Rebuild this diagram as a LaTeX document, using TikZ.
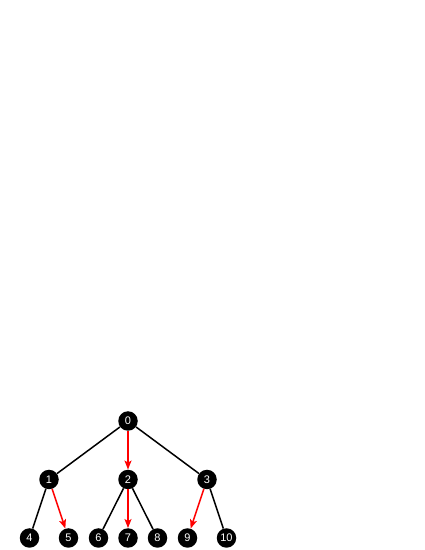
\documentclass[tikz,border=0pt]{standalone}
\usepackage{fontspec}
\setmainfont{Liberation Sans}
\usetikzlibrary{arrows.meta}
\begin{document}
\begin{tikzpicture}[x=1pt,y=1pt,
  every node/.style={circle,fill=black,text=white,inner sep=0pt,
    minimum size=19.5pt,font=\fontsize{11}{11}\selectfont},
  edge from parent/.style={draw,line width=1.5pt},
  plain/.style={draw=black,-},
  picked/.style={draw=red,line width=1.5pt,-{Stealth[length=9pt,width=7pt,inset=2pt]}},
  level distance=58.5pt,
  level 1/.style={sibling distance=79pt},
  level 2/.style={sibling distance=39pt}]
  \useasboundingbox (0,0) rectangle (425,550);
  \node (n0) at (128,129) {0}
    child {node (n1) {1}
      child {node (n4) {4}}
      child {node (n5) {5} edge from parent[picked]}
    }
    child {node (n2) {2}
      child[sibling distance=29.5pt] {node (n6) {6} edge from parent[plain]}
      child[sibling distance=29.5pt] {node (n7) {7} edge from parent[picked]}
      child[sibling distance=29.5pt] {node (n8) {8} edge from parent[plain]}
      edge from parent[picked]
    }
    child {node (n3) {3}
      child {node (n9) {9} edge from parent[picked]}
      child {node (n10) {10}}
    };
\end{tikzpicture}
\end{document}
